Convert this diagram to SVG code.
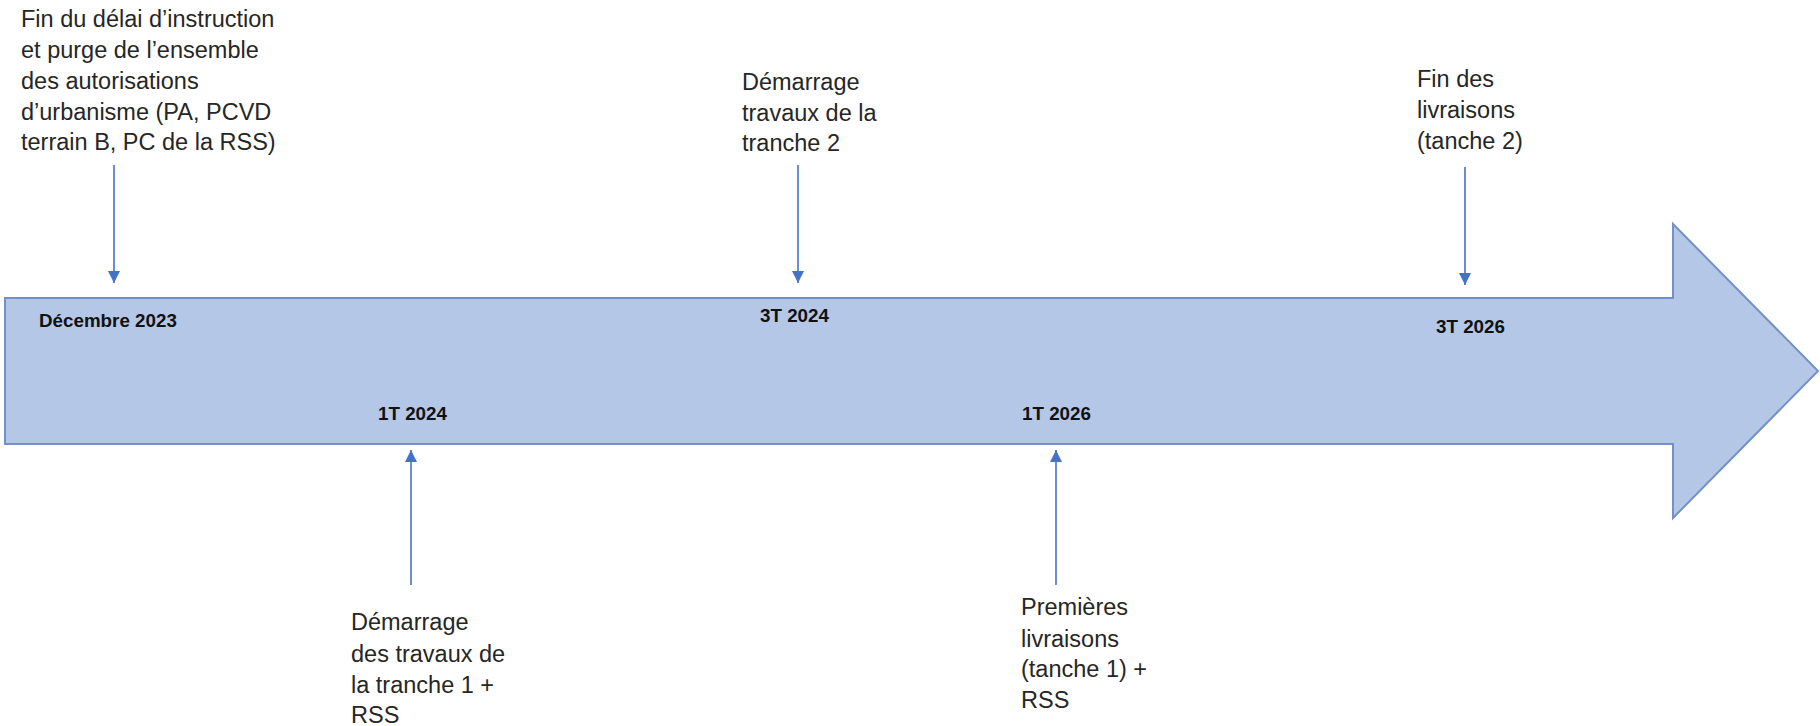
<svg xmlns="http://www.w3.org/2000/svg" width="1820" height="726" viewBox="0 0 1820 726">
<style>
.lbl{font-family:"Liberation Sans",Arial,sans-serif;font-size:23.5px;fill:#262626}
.date{font-family:"Liberation Sans",Arial,sans-serif;font-size:18.8px;font-weight:bold;fill:#111}
.conn{stroke:#4472C4;stroke-width:1.6;fill:none;marker-end:url(#ah)}
</style>
<defs>
<marker id="ah" markerUnits="userSpaceOnUse" markerWidth="13" markerHeight="13" refX="12" refY="6" orient="auto">
<path d="M0,0 L12,6 L0,12 z" fill="#4472C4"/>
</marker>
</defs>
<rect width="1820" height="726" fill="#fff"/>
<g id="timeline">
<polygon points="5,298 1673,298 1673,224 1818,371 1673,518 1673,444 5,444" fill="#B4C7E7" stroke="#7391C6" stroke-width="2"/>
</g>
<g id="connectors">
<line class="conn" x1="114" y1="165" x2="114" y2="283"/>
<line class="conn" x1="798" y1="165" x2="798" y2="283"/>
<line class="conn" x1="1465" y1="167" x2="1465" y2="285"/>
<line class="conn" x1="411" y1="585" x2="411" y2="450"/>
<line class="conn" x1="1056" y1="585" x2="1056" y2="450"/>
</g>
<g id="m1">
<text class="lbl" x="21" y="27">Fin du délai d’instruction</text>
<text class="lbl" x="21" y="58">et purge de l’ensemble</text>
<text class="lbl" x="21" y="88.5">des autorisations</text>
<text class="lbl" x="21" y="119.5">d’urbanisme (PA, PCVD</text>
<text class="lbl" x="21" y="150">terrain B, PC de la RSS)</text>
<text class="date" x="39" y="327">Décembre 2023</text>
</g>
<g id="m2">
<text class="date" x="378" y="420">1T 2024</text>
<text class="lbl" x="351" y="630">Démarrage</text>
<text class="lbl" x="351" y="662">des travaux de</text>
<text class="lbl" x="351" y="693">la tranche 1 +</text>
<text class="lbl" x="351" y="723">RSS</text>
</g>
<g id="m3">
<text class="lbl" x="742" y="90">Démarrage</text>
<text class="lbl" x="742" y="121">travaux de la</text>
<text class="lbl" x="742" y="151">tranche 2</text>
<text class="date" x="760" y="322">3T 2024</text>
</g>
<g id="m4">
<text class="date" x="1022" y="420">1T 2026</text>
<text class="lbl" x="1021" y="615">Premières</text>
<text class="lbl" x="1021" y="647">livraisons</text>
<text class="lbl" x="1021" y="677">(tanche 1) +</text>
<text class="lbl" x="1021" y="708">RSS</text>
</g>
<g id="m5">
<text class="lbl" x="1417" y="87">Fin des</text>
<text class="lbl" x="1417" y="118">livraisons</text>
<text class="lbl" x="1417" y="149">(tanche 2)</text>
<text class="date" x="1436" y="333">3T 2026</text>
</g>
</svg>
